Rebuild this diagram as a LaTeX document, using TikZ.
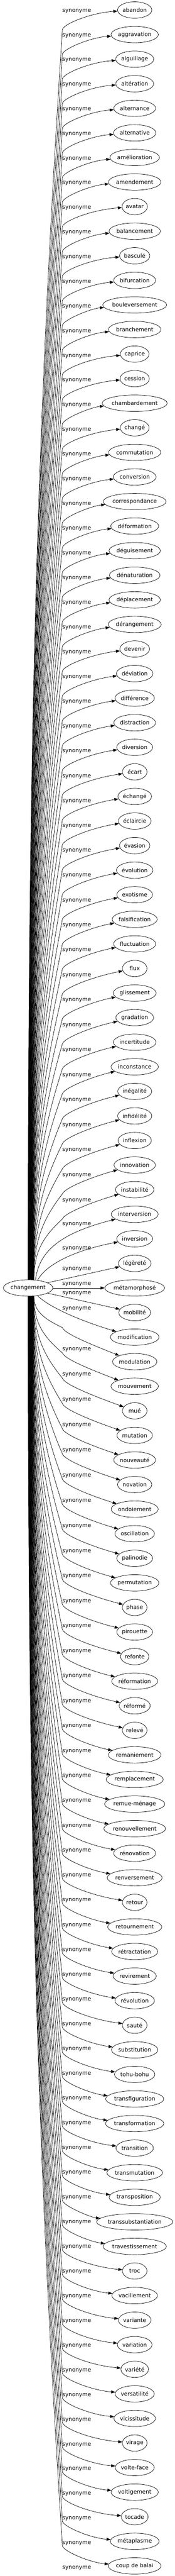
\documentclass[tikz,border=0pt]{standalone}
\usepackage{fontspec}
\setmainfont{DejaVu Sans}[Scale=1.22]
\usetikzlibrary{shapes.geometric,arrows.meta}
\tikzset{
  word/.style={draw,ellipse,inner sep=0pt,minimum height=36pt},
  rel/.style={inner sep=0pt},
}
\begin{document}
\begin{tikzpicture}[x=1pt,y=-1pt,line width=0.8pt,>={Triangle[length=9pt,width=6.5pt]}]
\useasboundingbox (0,0) rectangle (384,5660.25);
\setbox0=\hbox{\normalfont changement}
\pgfmathsetmacro\nw{1.235*\the\wd0+20.5}
\node[word,minimum width=\nw pt] (c) at (61.75,2830) {changement};
\foreach \word [count=\i] in {abandon, aggravation, aiguillage, altération, alternance, alternative,
  amélioration, amendement, avatar, balancement, basculé, bifurcation, bouleversement, branchement,
  caprice, cession, chambardement, changé, commutation, conversion, correspondance, déformation,
  déguisement, dénaturation, déplacement, dérangement, devenir, déviation, différence, distraction,
  diversion, écart, échangé, éclaircie, évasion, évolution, exotisme, falsification, fluctuation, flux,
  glissement, gradation, incertitude, inconstance, inégalité, infidélité, inflexion, innovation,
  instabilité, interversion, inversion, légèreté, métamorphosé, mobilité, modification, modulation,
  mouvement, mué, mutation, nouveauté, novation, ondoiement, oscillation, palinodie, permutation,
  phase, pirouette, refonte, réformation, réformé, relevé, remaniement, remplacement, remue-ménage,
  renouvellement, rénovation, renversement, retour, retournement, rétractation, revirement,
  révolution, sauté, substitution, tohu-bohu, transfiguration, transformation, transition,
  transmutation, transposition, transsubstantiation, travestissement, troc, vacillement, variante,
  variation, variété, versatilité, vicissitude, virage, volte-face, voltigement, tocade, métaplasme,
  coup de balai}{
  \setbox0=\hbox{\normalfont\word}
  \pgfmathsetmacro\nw{max(54,1.235*\the\wd0+20.5)}
  \node[word,minimum width=\nw pt] (s\i) at (296.25,{22+54*(\i-1)}) {\word};
}
\foreach \i in {1,...,49}{
  \pgfmathsetmacro\yy{22+54*(\i-1)}
  \pgfmathsetmacro\ee{\yy+24*exp(-(49-\i)/20)}
  \pgfmathsetmacro\vv{\ee+40.5}
  \pgfmathsetmacro\sx{13*(\i-1)/48}
  \pgfmathsetmacro\dd{2812-\vv}
  \draw[->] ([xshift=\sx pt]c.north) .. controls +(0,{-0.45*\dd}) and ({61.75+\sx+0.3*(75.5-\sx)},{\vv+0.3*\dd}) .. (137.25,\vv)
    .. controls (141,{\ee+28}) and (200,{\ee+4}) .. (s\i);
  \node[rel] (l\i) at (168.75,\ee) {synonyme};
}
\draw[->] (c.47) .. controls (86,2745) and (140,2708) .. (s50);
\draw[->] (c.39) .. controls (100,2780) and (160,2748) .. (s51);
\draw[->] (c.15) -- (s52);
\draw[->] (c) -- (s53);
\draw[->] (c.-15) -- (s54);
\draw[->] (c.-39) .. controls (105,2870) and (170,2900) .. (s55);
\node[rel] (l50) at (168.75,2690) {synonyme};
\node[rel] (l51) at (168.75,2744) {synonyme};
\node[rel] (l52) at (168.75,2788.5) {synonyme};
\node[rel] (l53) at (168.75,2821.5) {synonyme};
\node[rel] (l54) at (168.75,2842) {synonyme};
\node[rel] (l55) at (168.75,2876) {synonyme};
\foreach \i in {56,...,105}{
  \pgfmathsetmacro\yy{22+54*(\i-1)}
  \pgfmathsetmacro\ee{\yy-34*exp(-(\i-56)/20)}
  \pgfmathsetmacro\vv{\ee-41}
  \pgfmathsetmacro\sx{13*(105-\i)/49}
  \pgfmathsetmacro\dd{\vv-2848}
  \draw[->] ([xshift=\sx pt]c.south) .. controls +(0,{0.45*\dd}) and ({61.75+\sx+0.3*(75.5-\sx)},{\vv-0.3*\dd}) .. (137.25,\vv)
    .. controls (141,{\ee-28}) and (200,{\ee-4}) .. (s\i);
  \node[rel] (l\i) at (168.75,{\ee+7.5}) {synonyme};
}
\end{tikzpicture}
\end{document}
